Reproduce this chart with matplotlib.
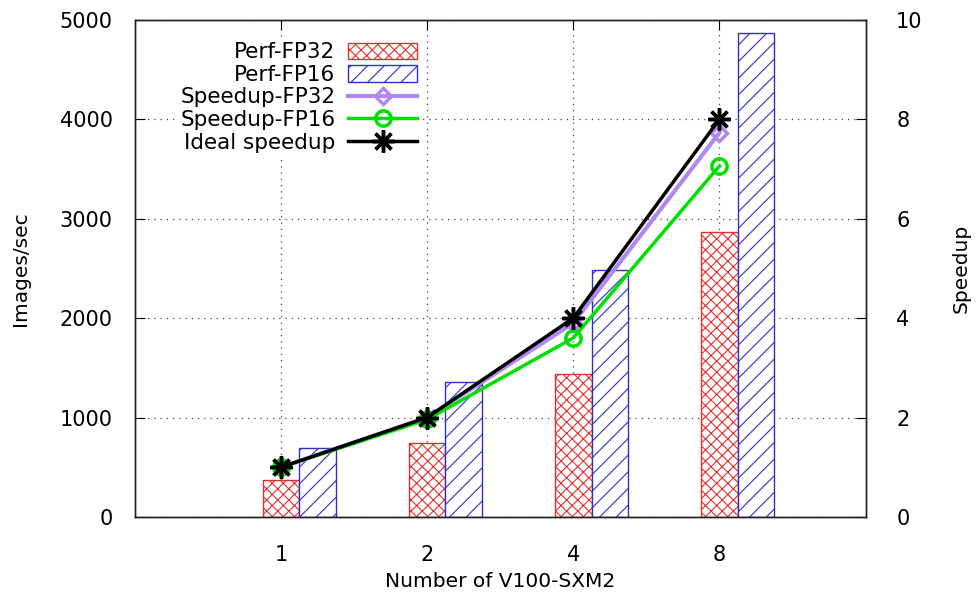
import numpy as np
import matplotlib.pyplot as plt

plt.rcParams['font.family'] = 'DejaVu Sans'
plt.rcParams['hatch.linewidth'] = 0.8

gpus = ['1', '2', '4', '8']
perf_fp32 = [372, 744, 1438, 2867]
perf_fp16 = [694, 1358, 2485, 4870]
speedup_fp32 = [1.0, 2.0, 3.9, 7.73]
speedup_fp16 = [1.0, 1.96, 3.6, 7.06]
ideal_speedup = [1, 2, 4, 8]

x = np.arange(1, len(gpus) + 1)
w = 0.25

fig = plt.figure(figsize=(9.77, 5.99), dpi=100)
ax = fig.add_axes([0.138, 0.137, 0.748, 0.830])
ax2 = ax.twinx()

b1 = ax.bar(x, perf_fp32, w, facecolor='white', edgecolor='#e03030',
            hatch='xxx', linewidth=1.0, label='Perf-FP32')
b2 = ax.bar(x + w, perf_fp16, w, facecolor='white', edgecolor='#3030c8',
            hatch='//', linewidth=1.0, label='Perf-FP16')

l1, = ax2.plot(x, speedup_fp32, color='#b088f0', lw=3, marker='D', ms=8,
               mfc='none', mew=2.5, label='Speedup-FP32')
l2, = ax2.plot(x, speedup_fp16, color='#00e000', lw=2.5, marker='o', ms=11,
               mfc='none', mew=2.5, label='Speedup-FP16')
l3, = ax2.plot(x, ideal_speedup, color='black', lw=2.5, marker=(8, 2, 0),
               ms=16, mew=2.5, label='Ideal speedup')

ax.set_xlim(0, 5)
ax.set_ylim(0, 5000)
ax2.set_ylim(0, 10)
ax.set_xticks(x)
ax.set_xticklabels(gpus)
ax.set_yticks(range(0, 5001, 1000))
ax2.set_yticks(range(0, 11, 2))

ax.grid(True, color='#444444', linestyle=(0, (1, 4)), linewidth=0.9)
ax.set_axisbelow(True)

ax.tick_params(direction='in', length=7, labelsize=15, top=True, labeltop=False)
ax.tick_params(axis='y', pad=16)
ax.tick_params(axis='x', pad=20)
ax2.tick_params(direction='in', length=7, labelsize=15, pad=22)
for a in (ax, ax2):
    for s in a.spines.values():
        s.set_linewidth(1.0)
        s.set_color('#222222')

ax.set_xlabel('Number of V100-SXM2', fontsize=14.5)
ax.set_ylabel('Images/sec', fontsize=14.5)
ax2.set_ylabel('Speedup', fontsize=14.5)
ax.xaxis.set_label_coords(0.5, -0.11)
ax.yaxis.set_label_coords(-0.144, 0.5)
ax2.yaxis.set_label_coords(1.118, 0.5)

leg = ax2.legend([b1, b2, l1, l2, l3],
                 ['Perf-FP32', 'Perf-FP16', 'Speedup-FP32', 'Speedup-FP16', 'Ideal speedup'],
                 loc='upper right', bbox_to_anchor=(0.407, 0.985), markerfirst=False,
                 frameon=True, fontsize=15.5, handlelength=3.2, handleheight=0.8,
                 labelspacing=0.12, borderpad=0.2, handletextpad=0.6)
leg.get_frame().set_edgecolor('none')
leg.get_frame().set_facecolor('white')
leg.get_frame().set_alpha(1)
for t in leg.get_texts():
    t.set_ha('right')
leg._legend_box.align = 'right'

fig.savefig('out.png', dpi=100)
